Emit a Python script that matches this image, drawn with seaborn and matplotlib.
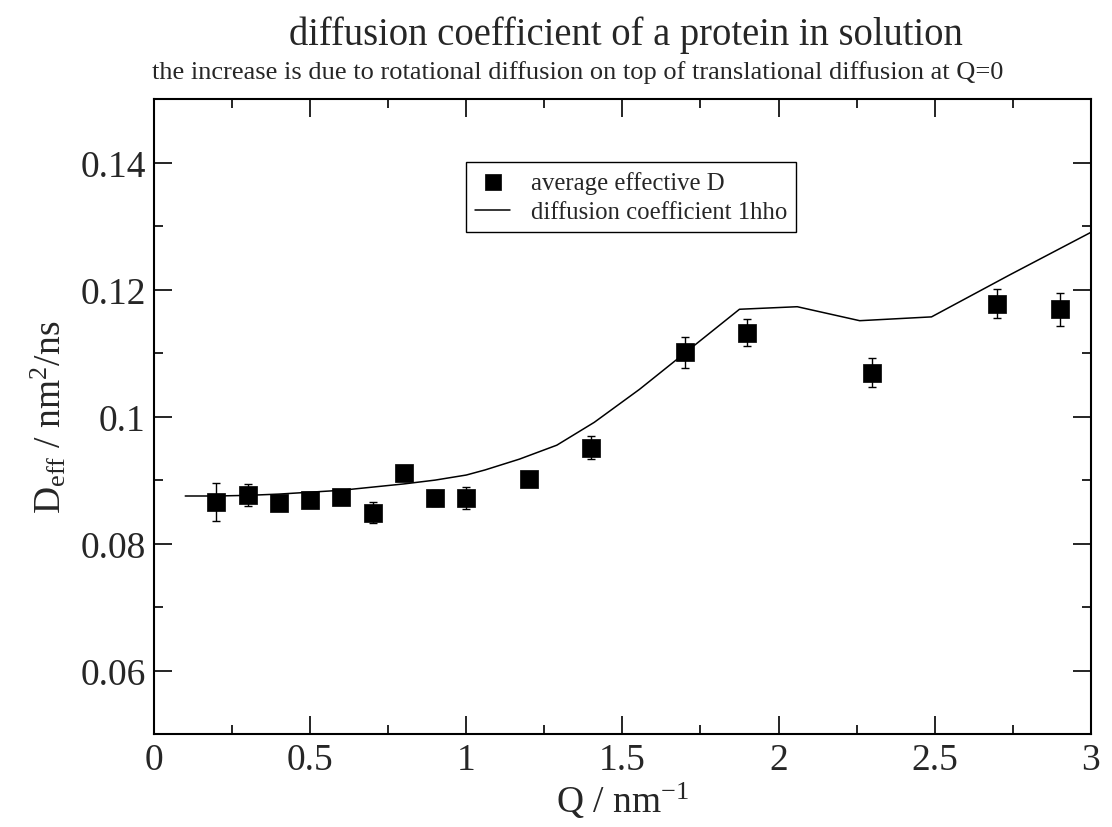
import numpy as np
import pandas as pd
import matplotlib
matplotlib.use("Agg")
import matplotlib.pyplot as plt
import seaborn as sns

# Measured points (average effective D)
q_points = [0.2, 0.3, 0.4, 0.5, 0.6, 0.7, 0.8, 0.9, 1.0, 1.2, 1.4, 1.7, 1.9, 2.3, 2.7, 2.9]
d_points = [0.0865, 0.0877, 0.0864, 0.0868, 0.0873, 0.0849, 0.0911, 0.0872, 0.0872,
            0.0902, 0.0951, 0.1101, 0.1132, 0.1069, 0.1178, 0.1169]
d_err = [0.0030, 0.0017, 0.0005, 0.0005, 0.0010, 0.0016, 0.0010, 0.0012, 0.0017,
         0.0009, 0.0018, 0.0025, 0.0021, 0.0023, 0.0023, 0.0026]

# Diffusion coefficient curve 1hho
q_line = [0.1, 0.2, 0.3, 0.4, 0.5, 0.6, 0.7, 0.8, 0.9, 1.0, 1.06, 1.17, 1.29, 1.41,
          1.555, 1.875, 2.06, 2.26, 2.49, 2.74, 3.0]
d_line = [0.0875, 0.0875, 0.0876, 0.0878, 0.0881, 0.0884, 0.0889, 0.0894, 0.0900,
          0.0908, 0.0916, 0.0933, 0.0955, 0.0991, 0.1043, 0.1169, 0.1173, 0.1151,
          0.1157, 0.1223, 0.1290]

label_points = "average effective D"
label_line = "diffusion coefficient 1hho"
title = "diffusion coefficient of a protein in solution"
subtitle = "the increase is due to rotational diffusion on top of translational diffusion at Q=0"

sns.set_theme(style="ticks")
plt.rcParams['font.family'] = ['Liberation Serif', 'DejaVu Serif']
plt.rcParams['mathtext.fontset'] = 'custom'
plt.rcParams['mathtext.rm'] = 'Liberation Serif'
plt.rcParams['mathtext.it'] = 'Liberation Serif:italic'

fig = plt.figure(figsize=(11.12, 8.28), dpi=100)
ax = fig.add_axes([0.1385, 0.1121, 0.8424, 0.7671])

df_pts = pd.DataFrame({"Q": q_points, "D": d_points})
df_line = pd.DataFrame({"Q": q_line, "D": d_line})

ax.errorbar(q_points, d_points, yerr=d_err, fmt='none', ecolor='black',
            elinewidth=1.0, capsize=3.2, capthick=1.0, zorder=2)
sns.lineplot(data=df_line, x="Q", y="D", ax=ax, color='black', linewidth=1.1,
             label=label_line, zorder=3, legend=False)
sns.scatterplot(data=df_pts, x="Q", y="D", ax=ax, marker='s', s=165, color='black',
                edgecolor='black', linewidth=0.5, label=label_points, zorder=4, legend=False)

ax.set_xlim(0, 3)
ax.set_ylim(0.05, 0.15)
ax.set_xticks([0, 0.5, 1, 1.5, 2, 2.5, 3])
ax.set_xticklabels(["0", "0.5", "1", "1.5", "2", "2.5", "3"])
ax.set_xticks(np.arange(0.25, 3, 0.5), minor=True)
ax.set_yticks([0.06, 0.08, 0.10, 0.12, 0.14])
ax.set_yticklabels(["0.06", "0.08", "0.1", "0.12", "0.14"])
ax.set_yticks([0.05, 0.07, 0.09, 0.11, 0.13, 0.15], minor=True)

ax.tick_params(which='both', direction='in', top=True, right=True, width=1.2,
               labelsize=27, color='black')
ax.tick_params(which='major', length=13, pad=6)
ax.tick_params(which='minor', length=6.5)
for s in ax.spines.values():
    s.set_linewidth(1.5)
    s.set_color('black')

ax.set_xlabel(r"Q / nm$^{-1}$", fontsize=27, labelpad=2)
ax.set_ylabel(r"D$_{\mathrm{eff}}$ / nm$^{2}$/ns", fontsize=27, labelpad=8)

handles, labels = ax.get_legend_handles_labels()
order = [labels.index(label_points), labels.index(label_line)]
leg = ax.legend([handles[i] for i in order], [labels[i] for i in order],
                loc='upper left', bbox_to_anchor=(0.333, 0.9003), borderaxespad=0,
                fontsize=17.8, frameon=True, fancybox=False, edgecolor='black',
                framealpha=1, handlelength=1.45, handletextpad=0.85, borderpad=0.35,
                labelspacing=0.28, markerscale=0.85)
leg.get_frame().set_linewidth(1.0)

fig.text(626 / 1112, 0.946, title, ha='center', va='baseline', fontsize=27.8)
fig.text(578 / 1112, 0.905, subtitle, ha='center', va='baseline', fontsize=19)

fig.savefig("out.png", dpi=100, facecolor='white')
